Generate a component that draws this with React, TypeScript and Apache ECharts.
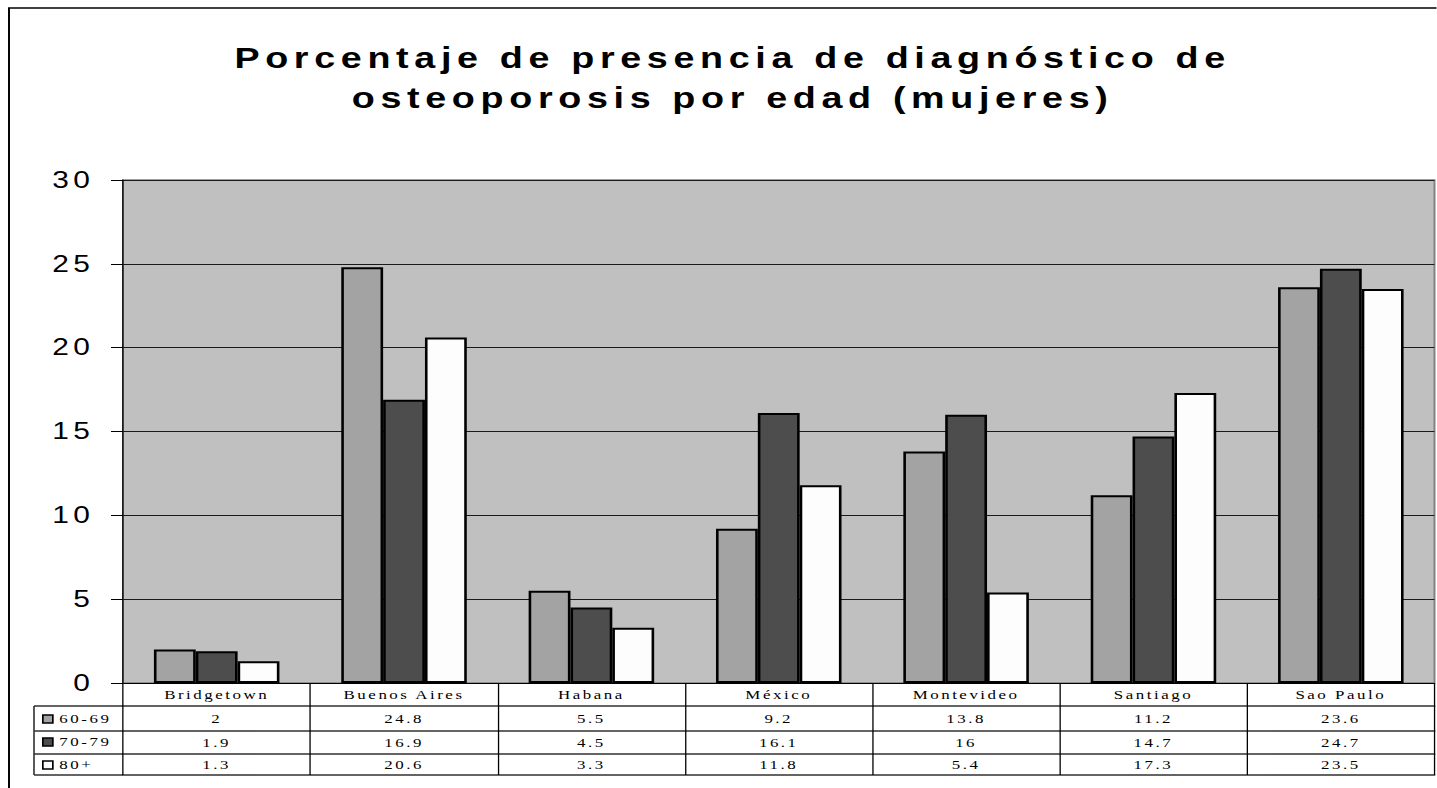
import React, { useEffect, useRef } from "react";
import * as echarts from "echarts";

const categories = ["Bridgetown", "Buenos Aires", "Habana", "México", "Montevideo", "Santiago", "Sao Paulo"];
const seriesNames = ["60-69", "70-79", "80+"];
const values6069 = [2, 24.8, 5.5, 9.2, 13.8, 11.2, 23.6];
const values7079 = [1.9, 16.9, 4.5, 16.1, 16, 14.7, 24.7];
const values80 = [1.3, 20.6, 3.3, 11.8, 5.4, 17.3, 23.5];
const seriesColors = ["#a3a3a3", "#4d4d4d", "#fdfdfd"];
const titleText = "Porcentaje de presencia de diagnóstico de\nosteoporosis por edad (mujeres)";

const allValues = [values6069, values7079, values80];
const SERIF = "'Liberation Serif', 'Times New Roman', serif";
const SANS = "'Liberation Sans', Arial, sans-serif";

// The reference is a horizontally stretched spreadsheet chart: draw at a
// narrower width and stretch the whole chart by SX.
const SX = 1.3;
const PAGE_W = 1437;
const PAGE_H = 788;
const px = (v: number) => v / SX;

export default function App() {
  const ref = useRef<HTMLDivElement>(null);
  useEffect(() => {
    if (!ref.current) return;
    const chart = echarts.init(ref.current, undefined, { renderer: "svg" });
    const rowAxis = (idx: number, offset: number, margin: number) => ({
      type: "category",
      data: categories,
      gridIndex: 0,
      position: "bottom",
      offset,
      axisLine: { show: true, lineStyle: { color: "#303030", width: 1.5 } },
      axisTick: { show: false },
      splitLine: { show: false },
      axisLabel: {
        show: idx >= 0,
        interval: 0,
        margin,
        fontFamily: SERIF,
        fontSize: 13,
        color: "#000",
        formatter: (_v: string, i: number) => (idx >= 0 ? String(allValues[idx][i]) : ""),
      },
    });
    const leftLine = (y: number) => ({
      type: "line",
      shape: { x1: px(34), y1: y, x2: px(123), y2: y },
      style: { stroke: "#303030", lineWidth: 1.5 },
      silent: true,
    });
    chart.setOption({
      animation: false,
      backgroundColor: "#ffffff",
      grid: {
        left: px(123),
        right: px(2),
        top: 180,
        bottom: 105,
        show: true,
        backgroundColor: "#c0c0c0",
        borderColor: "#808080",
        borderWidth: 1.5,
      },
      legend: {
        orient: "vertical",
        left: px(42),
        top: 712,
        padding: 0,
        itemWidth: px(10),
        itemHeight: 8,
        itemGap: 9,
        icon: "rect",
        selectedMode: false,
        data: seriesNames,
        itemStyle: { borderColor: "#000", borderWidth: 1.3 },
        textStyle: { fontFamily: SERIF, fontSize: 13, color: "#000", lineHeight: 14 },
      },
      xAxis: [
        {
          type: "category",
          data: categories,
          gridIndex: 0,
          position: "bottom",
          axisLine: { show: true, lineStyle: { color: "#000", width: 1 } },
          axisTick: { show: true, interval: 0, length: 92, lineStyle: { color: "#000", width: 1 } },
          splitLine: { show: false },
          axisLabel: { interval: 0, margin: 5, fontFamily: SERIF, fontSize: 13, color: "#000" },
        },
        rowAxis(0, 23, 6),
        rowAxis(1, 48, 5),
        rowAxis(2, 71, 4),
        rowAxis(-1, 92, 4),
      ],
      yAxis: {
        type: "value",
        min: 0,
        max: 30,
        interval: 5,
        axisLine: { show: true, lineStyle: { color: "#000", width: 1 } },
        axisTick: { show: true, length: px(12), lineStyle: { color: "#000", width: 1 } },
        splitLine: { show: true, lineStyle: { color: "#1a1a1a", width: 1 } },
        axisLabel: { fontFamily: SANS, fontSize: 23, color: "#000", margin: 22 },
      },
      series: seriesNames.map((name, i) => ({
        name,
        type: "bar",
        xAxisIndex: 0,
        data: allValues[i],
        barGap: "0%",
        barCategoryGap: "33%",
        itemStyle: { color: seriesColors[i], borderColor: "#000", borderWidth: 2 },
      })),
      graphic: [
        {
          type: "rect",
          shape: { x: px(9), y: 8, width: px(1450), height: 800 },
          style: { fill: "none", stroke: "#000", lineWidth: 1.5 },
          silent: true,
        },
        {
          type: "text",
          x: px(730) + 2,
          y: 78,
          style: {
            text: titleText,
            font: "bold 29px " + SANS,
            fill: "#000",
            textAlign: "center",
            textVerticalAlign: "middle",
            lineHeight: 40,
          },
        },
        {
          type: "line",
          shape: { x1: px(34), y1: 706, x2: px(34), y2: 775 },
          style: { stroke: "#000", lineWidth: 1 },
          silent: true,
        },
        leftLine(706),
        leftLine(731),
        leftLine(754),
        leftLine(775),
      ],
    });
    return () => chart.dispose();
  }, []);
  return (
    <>
      <style>{`.osteo-chart svg text { letter-spacing: 0.15em; }`}</style>
      <div
        ref={ref}
        className="osteo-chart"
        style={{
          position: "absolute",
          left: 0,
          top: 0,
          width: PAGE_W / SX,
          height: PAGE_H,
          transform: `scaleX(${SX})`,
          transformOrigin: "0 0",
        }}
      />
    </>
  );
}
